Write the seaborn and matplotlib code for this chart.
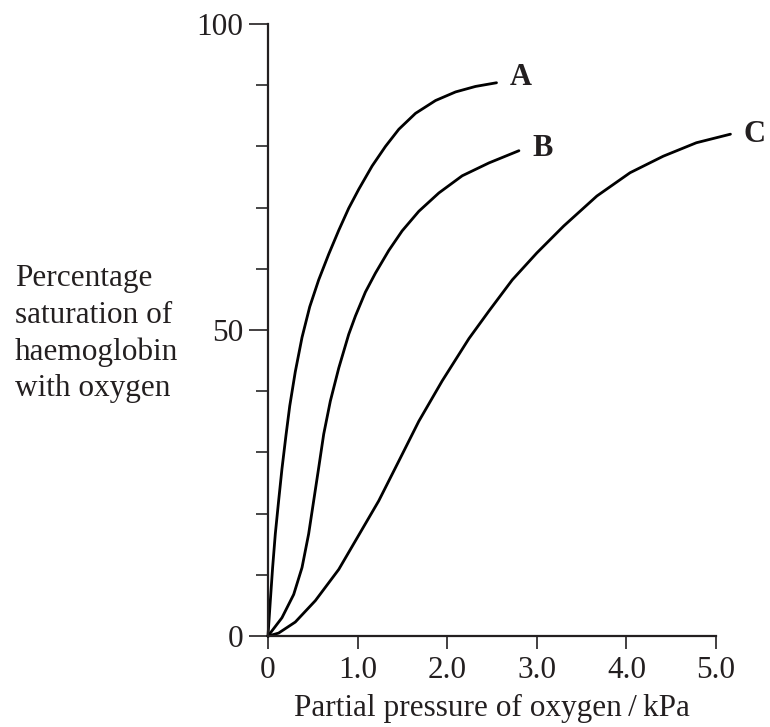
import pandas as pd
import seaborn as sns
import matplotlib.pyplot as plt
from matplotlib.ticker import MultipleLocator

# curve points
a_x = [0, 0.026, 0.052, 0.082, 0.119, 0.156, 0.201, 0.243, 0.305, 0.38, 0.466, 0.566, 0.678,
       0.79, 0.901, 1.013, 1.162, 1.311, 1.46, 1.646, 1.87, 2.093, 2.316, 2.55]
a_y = [0, 5.7, 11.2, 16.7, 22.1, 27.3, 32.8, 37.6, 43.2, 48.8, 53.8, 58.2, 62.4,
       66.3, 69.9, 73.0, 76.8, 80.0, 82.8, 85.4, 87.5, 88.9, 89.8, 90.4]

b_x = [0, 0.156, 0.287, 0.38, 0.454, 0.51, 0.566, 0.622, 0.696, 0.79, 0.901, 0.976, 1.087,
       1.199, 1.348, 1.497, 1.683, 1.907, 2.167, 2.465, 2.80]
b_y = [0, 3.0, 6.8, 11.2, 16.7, 22.1, 27.5, 33.0, 38.4, 43.8, 49.3, 52.3, 56.2,
       59.3, 63.0, 66.2, 69.4, 72.4, 75.2, 77.3, 79.3]

c_x = [0, 0.119, 0.305, 0.529, 0.79, 1.013, 1.236, 1.46, 1.683, 1.944, 2.242, 2.465, 2.726,
       3.0, 3.30, 3.67, 4.04, 4.41, 4.78, 5.16]
c_y = [0, 0.5, 2.3, 5.8, 10.9, 16.5, 22.1, 28.6, 35.1, 41.7, 48.6, 53.1, 58.2,
       62.6, 67.0, 71.9, 75.7, 78.4, 80.6, 82.0]

curve_names = ['A', 'B', 'C']
x_ticks = [0, 1, 2, 3, 4, 5]
x_tick_labels = ['0', '1.0', '2.0', '3.0', '4.0', '5.0']
y_ticks = [0, 50, 100]

frames = []
for name, xs, ys in zip(curve_names, [a_x, b_x, c_x], [a_y, b_y, c_y]):
    frames.append(pd.DataFrame({'pressure': xs, 'saturation': ys, 'curve': name}))
df = pd.concat(frames, ignore_index=True)

sns.set_style('white')
plt.rcParams['font.family'] = ['Liberation Serif', 'DejaVu Serif']
ink = '#231f20'

fig = plt.figure(figsize=(7.7, 7.27), dpi=100)
ax = fig.add_axes([0.348, 0.125, 0.582, 0.842])

for name in curve_names:
    sns.lineplot(data=df[df['curve'] == name], x='pressure', y='saturation',
                 sort=False, estimator=None, color='black', linewidth=2.0,
                 solid_joinstyle='round', ax=ax, clip_on=False)

ax.set_xlim(0, 5)
ax.set_ylim(0, 100)
ax.set_xticks(x_ticks)
ax.set_xticklabels(x_tick_labels)
ax.set_yticks(y_ticks)
ax.yaxis.set_minor_locator(MultipleLocator(10))
ax.tick_params(axis='x', direction='out', length=9, width=1.2, pad=5,
               labelsize=22.5, colors=ink, bottom=True)
ax.tick_params(axis='y', which='major', direction='out', length=14, width=1.2, pad=4,
               labelsize=22.5, colors=ink, left=True)
ax.tick_params(axis='y', which='minor', direction='out', length=9, width=1.2, left=True)
for s in ['top', 'right']:
    ax.spines[s].set_visible(False)
for s in ['left', 'bottom']:
    ax.spines[s].set_color(ink)
    ax.spines[s].set_linewidth(1.6)
ax.set_xlabel('')
ax.set_ylabel('')

# curve labels
label_pos = {'A': (2.70, 91.3), 'B': (2.95, 79.7), 'C': (5.31, 82.0)}
for name in curve_names:
    lx, ly = label_pos[name]
    ax.text(lx, ly, name, fontsize=22, fontweight='bold', color=ink,
            ha='left', va='center', clip_on=False)

fig.text(0.639, 0.026, 'Partial pressure of oxygen\u2009/\u2009kPa', fontsize=22.5,
         color=ink, ha='center', va='center')
fig.text(0.019, 0.541, 'Percentage\nsaturation of\nhaemoglobin\nwith oxygen',
         fontsize=22.5, color=ink, ha='left', va='center', linespacing=1.33)

fig.savefig('out.png', dpi=100)
